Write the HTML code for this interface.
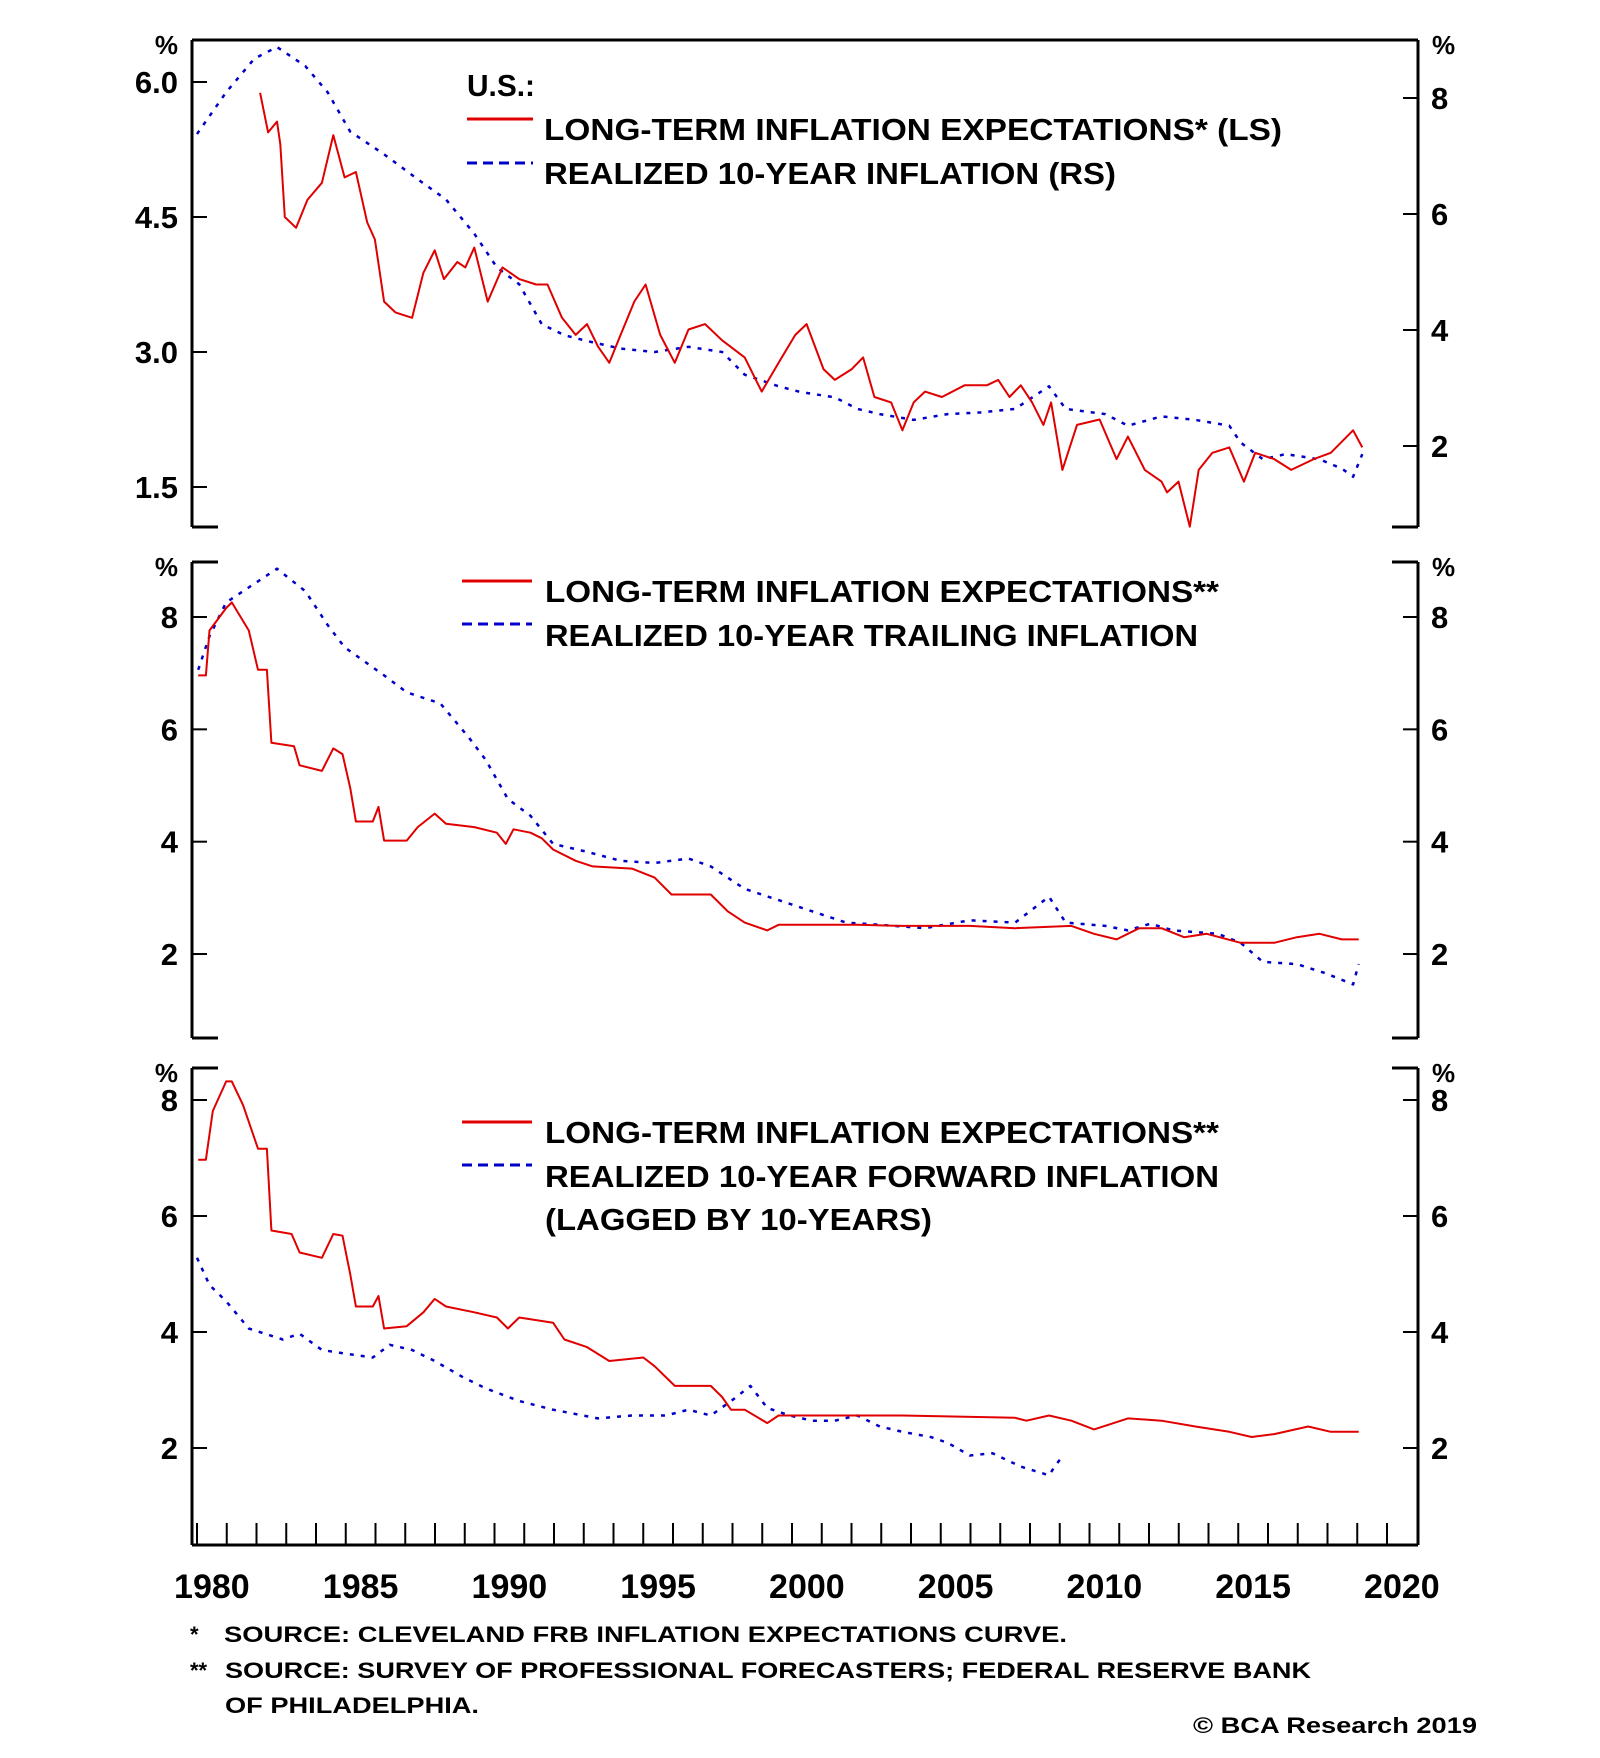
<!DOCTYPE html>
<html><head><meta charset="utf-8"><style>
html,body{margin:0;padding:0;background:#fff;}
svg{display:block;font-family:"Liberation Sans",Arial,sans-serif;}
.t{font-weight:bold;fill:#000;}
</style></head><body>
<svg id="chart" width="1600" height="1758" viewBox="0 0 1600 1758" xmlns="http://www.w3.org/2000/svg">
<g id="frames"></g>
<g id="series"></g>
<g id="labels">
  <text class="t" x="467" y="96" font-size="31" textLength="68" lengthAdjust="spacingAndGlyphs">U.S.:</text>
  <line x1="467" y1="119" x2="533" y2="119" stroke="#e00000" stroke-width="3"/>
  <text class="t" x="544" y="140" font-size="31" textLength="738" lengthAdjust="spacingAndGlyphs">LONG-TERM INFLATION EXPECTATIONS* (LS)</text>
  <line x1="467" y1="163" x2="533" y2="163" stroke="#0000c8" stroke-width="3" stroke-dasharray="10,6"/>
  <text class="t" x="544" y="184" font-size="31" textLength="572" lengthAdjust="spacingAndGlyphs">REALIZED 10-YEAR INFLATION (RS)</text>

  <line x1="462" y1="581" x2="532" y2="581" stroke="#e00000" stroke-width="3"/>
  <text class="t" x="545" y="602" font-size="31" textLength="674" lengthAdjust="spacingAndGlyphs">LONG-TERM INFLATION EXPECTATIONS**</text>
  <line x1="462" y1="624" x2="532" y2="624" stroke="#0000c8" stroke-width="3" stroke-dasharray="10,6"/>
  <text class="t" x="545" y="646" font-size="31" textLength="653" lengthAdjust="spacingAndGlyphs">REALIZED 10-YEAR TRAILING INFLATION</text>

  <line x1="462" y1="1122" x2="532" y2="1122" stroke="#e00000" stroke-width="3"/>
  <text class="t" x="545" y="1143" font-size="31" textLength="674" lengthAdjust="spacingAndGlyphs">LONG-TERM INFLATION EXPECTATIONS**</text>
  <line x1="462" y1="1165" x2="532" y2="1165" stroke="#0000c8" stroke-width="3" stroke-dasharray="10,6"/>
  <text class="t" x="545" y="1187" font-size="31" textLength="674" lengthAdjust="spacingAndGlyphs">REALIZED 10-YEAR FORWARD INFLATION</text>
  <text class="t" x="545" y="1230" font-size="31" textLength="387" lengthAdjust="spacingAndGlyphs">(LAGGED BY 10-YEARS)</text>

  <text class="t" x="190" y="1642" font-size="22">*</text>
  <text class="t" x="224" y="1642" font-size="22" textLength="843" lengthAdjust="spacingAndGlyphs">SOURCE: CLEVELAND FRB INFLATION EXPECTATIONS CURVE.</text>
  <text class="t" x="190" y="1678" font-size="22">**</text>
  <text class="t" x="225" y="1678" font-size="22" textLength="1086" lengthAdjust="spacingAndGlyphs">SOURCE: SURVEY OF PROFESSIONAL FORECASTERS; FEDERAL RESERVE BANK</text>
  <text class="t" x="225" y="1713" font-size="22" textLength="254" lengthAdjust="spacingAndGlyphs">OF PHILADELPHIA.</text>
  <text class="t" x="1193" y="1733" font-size="22" textLength="284" lengthAdjust="spacingAndGlyphs">© BCA Research 2019</text>
</g>
</svg>
<script>
// ---------- data (year offset from 1980, values in %) ----------
const xTickYears = [1980,1985,1990,1995,2000,2005,2010,2015,2020];
const p1LeftTicks = [6.0,4.5,3.0,1.5];
const p1LeftTickLabels = ["6.0","4.5","3.0","1.5"];
const p1RightTicks = [8,6,4,2];
const p23Ticks = [8,6,4,2];

const p1RedT = [2.12,2.39,2.69,2.80,2.95,3.33,3.71,4.20,4.58,4.96,5.34,5.72,5.98,6.29,6.67,7.23,7.61,7.99,8.30,8.75,9.02,9.32,9.77,10.27,10.83,11.40,11.78,12.27,12.73,13.11,13.48,13.86,14.24,14.70,15.08,15.57,16.06,16.52,17.08,17.65,18.41,18.98,19.55,20.11,20.49,21.06,21.44,22.01,22.39,22.77,23.33,23.71,24.09,24.47,25.04,25.80,26.55,26.93,27.31,27.69,28.07,28.45,28.71,29.09,29.58,30.34,30.91,31.29,31.86,32.42,32.61,32.99,33.37,33.67,34.13,34.70,35.19,35.57,36.21,36.78,37.54,38.11,38.86,39.17];
const p1RedV = [5.88,5.44,5.56,5.31,4.50,4.38,4.69,4.88,5.41,4.94,5.00,4.44,4.25,3.56,3.44,3.38,3.88,4.13,3.81,4.00,3.94,4.16,3.56,3.94,3.81,3.75,3.75,3.38,3.19,3.31,3.06,2.88,3.19,3.56,3.75,3.19,2.88,3.25,3.31,3.13,2.94,2.56,2.88,3.19,3.31,2.81,2.69,2.81,2.94,2.50,2.44,2.13,2.44,2.56,2.50,2.63,2.63,2.69,2.50,2.63,2.44,2.19,2.44,1.69,2.19,2.25,1.81,2.06,1.69,1.56,1.44,1.56,1.06,1.69,1.88,1.94,1.56,1.88,1.81,1.69,1.81,1.88,2.13,1.94];
const p1BlueT = [0.00,0.98,1.93,2.69,3.64,4.39,5.15,6.29,7.42,8.37,9.32,10.08,10.83,11.59,12.35,13.11,14.24,15.38,16.52,17.65,18.41,19.55,20.30,21.44,22.20,22.95,24.09,25.23,26.36,27.50,28.64,29.20,30.53,31.29,32.42,33.56,34.70,35.08,35.83,36.59,37.73,38.48,38.86,39.17];
const p1BlueV = [7.38,8.10,8.68,8.88,8.55,8.10,7.42,7.03,6.60,6.25,5.66,5.08,4.79,4.10,3.91,3.81,3.68,3.62,3.71,3.62,3.23,3.03,2.93,2.84,2.64,2.55,2.45,2.55,2.58,2.64,3.03,2.64,2.55,2.35,2.51,2.45,2.35,2.06,1.77,1.86,1.77,1.61,1.47,1.86];

const p2RedT = [0.04,0.30,0.42,0.98,1.17,1.74,2.05,2.35,2.50,3.26,3.45,4.20,4.58,4.89,5.15,5.34,5.91,6.10,6.29,7.05,7.42,7.99,8.37,9.32,10.08,10.38,10.64,11.21,11.59,11.97,12.73,13.30,14.62,15.38,15.95,17.27,17.84,18.41,19.17,19.55,20.68,22.20,23.71,25.98,27.50,29.39,30.15,30.91,31.67,32.42,33.18,33.94,35.08,36.21,36.97,37.73,38.48,39.05];
const p2RedV = [6.96,6.96,7.76,8.16,8.26,7.76,7.06,7.06,5.76,5.70,5.36,5.26,5.66,5.56,4.96,4.36,4.36,4.62,4.02,4.02,4.26,4.50,4.32,4.26,4.16,3.96,4.22,4.16,4.06,3.86,3.66,3.56,3.52,3.36,3.06,3.06,2.76,2.56,2.42,2.52,2.52,2.52,2.50,2.50,2.46,2.50,2.36,2.26,2.46,2.46,2.30,2.36,2.20,2.20,2.30,2.36,2.26,2.26];
const p2BlueT = [0.04,0.42,0.98,2.12,2.69,3.64,4.39,4.96,6.29,7.05,8.18,9.13,9.70,10.45,11.21,11.97,13.11,14.24,15.38,16.52,17.27,18.41,19.55,20.68,21.82,22.95,24.47,25.98,27.50,28.64,29.20,30.53,31.29,32.05,32.80,34.32,35.08,35.83,36.97,37.92,38.86,39.05];
const p2BlueV = [7.06,7.66,8.26,8.66,8.86,8.46,7.86,7.46,6.96,6.66,6.46,5.86,5.46,4.76,4.46,3.96,3.82,3.66,3.62,3.70,3.56,3.16,2.96,2.76,2.56,2.52,2.46,2.60,2.56,3.02,2.56,2.50,2.42,2.54,2.42,2.36,2.20,1.86,1.82,1.66,1.46,1.82];

const p3RedT = [0.04,0.30,0.53,0.98,1.17,1.55,2.05,2.35,2.50,3.18,3.45,4.20,4.58,4.89,5.15,5.34,5.91,6.10,6.29,7.05,7.61,7.99,8.37,9.32,10.08,10.45,10.83,11.97,12.35,13.11,13.86,15.00,15.38,16.06,17.27,17.65,17.95,18.41,19.17,19.55,23.71,27.50,27.88,28.64,29.39,30.15,31.29,32.42,33.56,34.70,35.45,36.21,37.35,38.11,39.05];
const p3RedV = [6.97,6.97,7.81,8.32,8.32,7.91,7.16,7.16,5.75,5.69,5.37,5.28,5.69,5.66,5.00,4.44,4.44,4.62,4.06,4.10,4.34,4.57,4.44,4.34,4.25,4.06,4.25,4.16,3.87,3.74,3.50,3.56,3.41,3.07,3.07,2.88,2.66,2.66,2.43,2.56,2.56,2.52,2.47,2.56,2.47,2.32,2.51,2.47,2.37,2.28,2.19,2.24,2.37,2.28,2.28];
const p3BlueT = [0.00,0.42,0.98,1.74,2.88,3.45,4.20,4.96,5.91,6.48,7.23,7.99,8.94,9.70,10.83,11.97,13.48,14.62,15.76,16.52,17.27,18.03,18.60,19.17,19.92,20.68,21.44,22.20,22.95,23.71,24.66,25.23,25.98,26.74,27.69,28.64,28.83,29.02];
const p3BlueV = [5.28,4.81,4.53,4.06,3.87,3.97,3.69,3.63,3.56,3.78,3.69,3.50,3.22,3.03,2.81,2.66,2.51,2.56,2.56,2.66,2.56,2.84,3.07,2.69,2.56,2.47,2.47,2.56,2.37,2.28,2.19,2.09,1.87,1.91,1.68,1.53,1.68,1.81];

// ---------- axes ----------
const NS = "http://www.w3.org/2000/svg";
const L = 192, R = 1418;
function xs(t){ return 197 + t*29.75; }
function yP1L(v){ return 82 + (6 - v)*90; }
function yP1R(v){ return 98 + (8 - v)*58; }
function yP2(v){ return 617 + (8 - v)*56.17; }
function yP3(v){ return 1100 + (8 - v)*58; }

const frames = document.getElementById('frames');
const series = document.getElementById('series');
const labels = document.getElementById('labels');

function mk(tag, attrs, parent){
  const e = document.createElementNS(NS, tag);
  for (const k in attrs) e.setAttribute(k, attrs[k]);
  parent.appendChild(e);
  return e;
}
function ln(x1,y1,x2,y2,w,parent){
  return mk('line',{x1:x1,y1:y1,x2:x2,y2:y2,stroke:'#000','stroke-width':w},parent);
}
function txt(s,x,y,size,anchor,parent){
  const e = mk('text',{x:x,y:y,'font-size':size,'text-anchor':anchor,'class':'t'},parent);
  e.textContent = s;
  return e;
}

const panels = [{top:40,bot:527,topFull:true,botFull:false},{top:562,bot:1038,topFull:false,botFull:false},{top:1068,bot:1545,topFull:false,botFull:true}];
panels.forEach((p,i)=>{
  let e = ln(L,p.top,L,p.bot,3,frames);
  
  
  e = ln(R,p.top,R,p.bot,3,frames);
  
  
  if (p.topFull){ e = ln(L,p.top,R,p.top,3,frames); }
  else { ln(L,p.top,L+26,p.top,3,frames); e = ln(R-26,p.top,R,p.top,3,frames); }
  
  
  if (p.botFull){ e = ln(L,p.bot,R,p.bot,3,frames); }
  else { ln(L,p.bot,L+26,p.bot,3,frames); e = ln(R-26,p.bot,R,p.bot,3,frames); }
  
  
  e = txt('%',178,p.top+14,26,'end',labels);
  
  
  e = txt('%',1432,p.top+14,26,'start',labels);
  
  
});

function yTicks(vals, labs, fn, side, name){
  vals.forEach((v,i)=>{
    const y = fn(v);
    let e;
    if (side==='left'){ e = ln(L,y,L+15,y,2,frames); }
    else { e = ln(R-15,y,R,y,2,frames); }
    
    
    const t = side==='left' ? txt(labs[i],178,y+11,31,'end',labels) : txt(labs[i],1431,y+11,31,'start',labels);
    
    
  });
}
const p23Labels = p23Ticks.map(String);
yTicks(p1LeftTicks,p1LeftTickLabels,yP1L,'left','panel1-left');
yTicks(p1RightTicks,p1RightTicks.map(String),yP1R,'right','panel1-right');
yTicks(p23Ticks,p23Labels,yP2,'left','panel2-left');
yTicks(p23Ticks,p23Labels,yP2,'right','panel2-right');
yTicks(p23Ticks,p23Labels,yP3,'left','panel3-left');
yTicks(p23Ticks,p23Labels,yP3,'right','panel3-right');

for (let yr=1980; yr<=2020; yr++){
  const x = xs(yr-1980);
  const e = ln(x,1523,x,1545,2,frames);
  
  
}
xTickYears.forEach(yr=>{
  const e = txt(String(yr), xs(yr-1980+0.5), 1598, 34, 'middle', labels);
  
  
});

function drawLine(ts, vs, fn, color, dashed, name){
  const d = ts.map((t,i)=>(i?'L':'M')+xs(t).toFixed(1)+','+fn(vs[i]).toFixed(1)).join('');
  const p = mk('path',{d:d,fill:'none',stroke:color,'stroke-width':dashed?2.5:2,'stroke-linejoin':'round'},series);
  if (dashed) p.setAttribute('stroke-dasharray','4,7');
  
  
}
drawLine(p1BlueT,p1BlueV,yP1R,'#0000c8',true,'panel1-realized-inflation-line');
drawLine(p1RedT,p1RedV,yP1L,'#e00000',false,'panel1-expectations-line');
drawLine(p2BlueT,p2BlueV,yP2,'#0000c8',true,'panel2-realized-trailing-line');
drawLine(p2RedT,p2RedV,yP2,'#e00000',false,'panel2-expectations-line');
drawLine(p3BlueT,p3BlueV,yP3,'#0000c8',true,'panel3-realized-forward-line');
drawLine(p3RedT,p3RedV,yP3,'#e00000',false,'panel3-expectations-line');
</script>
</body></html>
